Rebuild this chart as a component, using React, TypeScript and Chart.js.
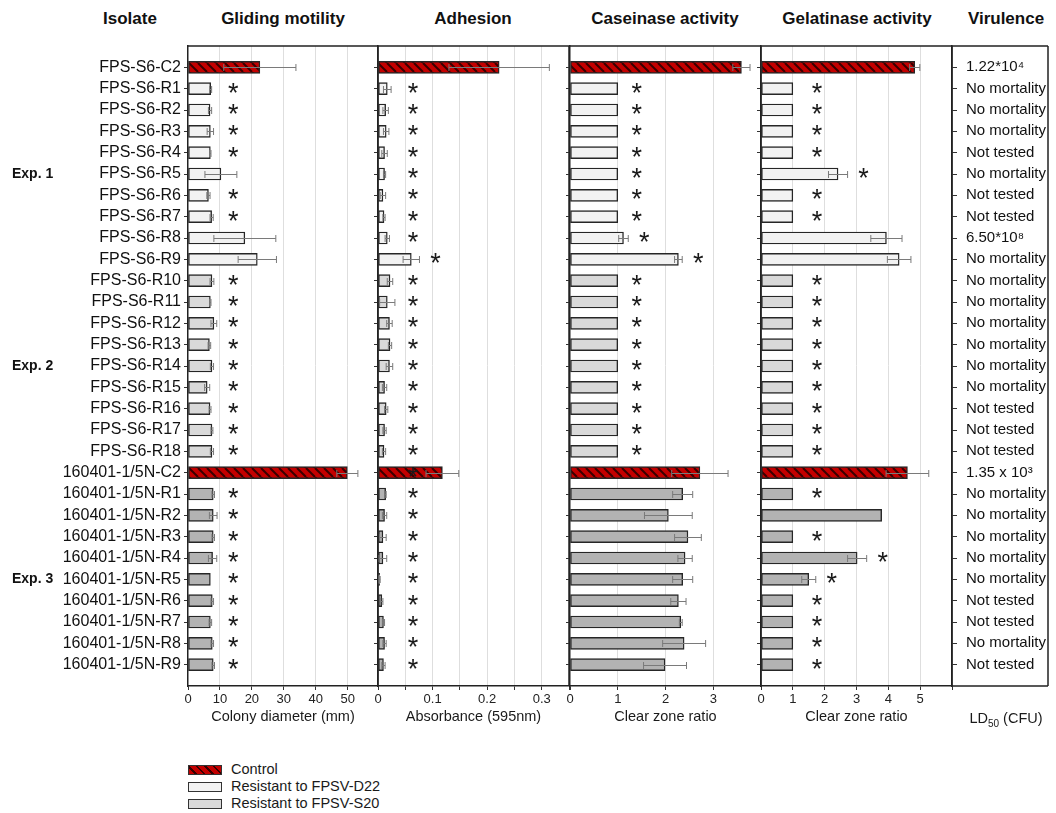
import React, { useEffect, useRef } from 'react';
import { Chart, registerables } from 'chart.js';

Chart.register(...registerables);

const FONT = '"Liberation Sans", Arial, Helvetica, sans-serif';

// ---------------- data ----------------
const isolates = [
  'FPS-S6-C2',
  'FPS-S6-R1', 'FPS-S6-R2', 'FPS-S6-R3', 'FPS-S6-R4', 'FPS-S6-R5', 'FPS-S6-R6', 'FPS-S6-R7', 'FPS-S6-R8', 'FPS-S6-R9',
  'FPS-S6-R10', 'FPS-S6-R11', 'FPS-S6-R12', 'FPS-S6-R13', 'FPS-S6-R14', 'FPS-S6-R15', 'FPS-S6-R16', 'FPS-S6-R17', 'FPS-S6-R18',
  '160401-1/5N-C2',
  '160401-1/5N-R1', '160401-1/5N-R2', '160401-1/5N-R3', '160401-1/5N-R4', '160401-1/5N-R5', '160401-1/5N-R6', '160401-1/5N-R7', '160401-1/5N-R8', '160401-1/5N-R9',
];

// C = control, E1/E2/E3 = resistant isolates of experiment 1/2/3
const rowGroup = [
  'C',
  'E1', 'E1', 'E1', 'E1', 'E1', 'E1', 'E1', 'E1', 'E1',
  'E2', 'E2', 'E2', 'E2', 'E2', 'E2', 'E2', 'E2', 'E2',
  'C',
  'E3', 'E3', 'E3', 'E3', 'E3', 'E3', 'E3', 'E3', 'E3',
];

const experiments = [
  { text: 'Exp. 1', anchor: 'FPS-S6-R5' },
  { text: 'Exp. 2', anchor: 'FPS-S6-R14' },
  { text: 'Exp. 3', anchor: '160401-1/5N-R5' },
];

const glidingMean = [22.5, 7.1, 6.9, 7.0, 7.0, 10.3, 6.4, 7.4, 17.8, 21.7, 7.5, 7.0, 8.1, 6.7, 7.5, 6.0, 6.9, 7.5, 7.5, 49.9, 7.9, 7.9, 7.9, 7.7, 7.0, 7.6, 7.0, 7.6, 7.9];
const glidingSd = [11.3, 0.3, 0.5, 1.0, 0.2, 5.0, 0.5, 0.5, 9.7, 6.0, 0.6, 0.2, 0.9, 0.4, 0.5, 0.8, 0.3, 0.3, 0.5, 3.3, 0.4, 1.2, 0.4, 1.3, 0, 0.4, 0.4, 0.4, 0.4];
const glidingStar = [0, 1, 1, 1, 1, 0, 1, 1, 0, 0, 1, 1, 1, 1, 1, 1, 1, 1, 1, 0, 1, 1, 1, 1, 1, 1, 1, 1, 1];

const adhesionMean = [0.222, 0.017, 0.014, 0.015, 0.012, 0.012, 0.009, 0.011, 0.017, 0.061, 0.022, 0.017, 0.021, 0.022, 0.021, 0.012, 0.015, 0.012, 0.011, 0.118, 0.014, 0.012, 0.009, 0.009, 0.003, 0.007, 0.010, 0.012, 0.010];
const adhesionSd = [0.092, 0.007, 0.005, 0.005, 0.005, 0.002, 0.005, 0.002, 0.004, 0.015, 0.005, 0.014, 0.005, 0.003, 0.006, 0.004, 0.003, 0.003, 0.003, 0.030, 0.001, 0.004, 0.006, 0.007, 0.001, 0.002, 0.002, 0.003, 0.003];
const adhesionStar = [0, 1, 1, 1, 1, 1, 1, 1, 1, 1, 1, 1, 1, 1, 1, 1, 1, 1, 1, 1, 1, 1, 1, 1, 1, 1, 1, 1, 1];

const caseinaseMean = [3.59, 1, 1, 1, 1, 1, 1, 1, 1.12, 2.27, 1, 1, 1, 1, 1, 1, 1, 1, 1, 2.72, 2.36, 2.06, 2.47, 2.41, 2.36, 2.27, 2.32, 2.39, 1.99];
const caseinaseSd = [0.18, 0, 0, 0, 0, 0, 0, 0, 0.1, 0.08, 0, 0, 0, 0, 0, 0, 0, 0, 0, 0.59, 0.21, 0.5, 0.28, 0.15, 0.21, 0.16, 0.03, 0.45, 0.45];
const caseinaseStar = [0, 1, 1, 1, 1, 1, 1, 1, 1, 1, 1, 1, 1, 1, 1, 1, 1, 1, 1, 0, 0, 0, 0, 0, 0, 0, 0, 0, 0];

const gelatinaseMean = [4.83, 1, 1, 1, 1, 2.42, 1, 1, 3.94, 4.34, 1, 1, 1, 1, 1, 1, 1, 1, 1, 4.6, 1, 3.79, 1, 3.02, 1.5, 1, 1, 1, 1];
const gelatinaseSd = [0.16, 0, 0, 0, 0, 0.3, 0, 0, 0.49, 0.37, 0, 0, 0, 0, 0, 0, 0, 0, 0, 0.67, 0, 0, 0, 0.3, 0.22, 0, 0, 0, 0];
const gelatinaseStar = [0, 1, 1, 1, 1, 1, 1, 1, 0, 0, 1, 1, 1, 1, 1, 1, 1, 1, 1, 0, 1, 0, 1, 1, 1, 1, 1, 1, 1];

const virulence = [
  '1.22*10⁴',
  'No mortality', 'No mortality', 'No mortality', 'Not tested', 'No mortality', 'Not tested', 'Not tested', '6.50*10⁸', 'No mortality',
  'No mortality', 'No mortality', 'No mortality', 'No mortality', 'No mortality', 'No mortality', 'Not tested', 'Not tested', 'Not tested',
  '1.35 x 10³',
  'No mortality', 'No mortality', 'No mortality', 'No mortality', 'No mortality', 'Not tested', 'Not tested', 'No mortality', 'Not tested',
];

const headers = ['Isolate', 'Gliding motility', 'Adhesion', 'Caseinase activity', 'Gelatinase activity', 'Virulence'];
const legendLabels = ['Control', 'Resistant to FPSV-D22', 'Resistant to FPSV-S20'];

// ---------------- styling / layout ----------------
const groupFill: Record<string, string> = { E1: '#f2f2f2', E2: '#d9d9d9', E3: '#b3b3b3' };
const headerX = [130, 283, 473, 665, 857, 1006];

type Panel = {
  key: string;
  mean: number[];
  sd: number[];
  star: number[];
  max: number;
  step: number;
  starAt: number;
  title: string;
  label: (v: number) => string;
  left: number;
  width: number;
  yWidth: number;
  padRight: number;
};

const panels: Panel[] = [
  {
    key: 'gliding', mean: glidingMean, sd: glidingSd, star: glidingStar, max: 59.5, step: 10, starAt: 14.2,
    title: 'Colony diameter (mm)', label: (v) => (Math.abs(v % 10) < 1e-9 ? String(v) : ''),
    left: 0, width: 400, yWidth: 188, padRight: 22,
  },
  {
    key: 'adhesion', mean: adhesionMean, sd: adhesionSd, star: adhesionStar, max: 0.35, step: 0.05, starAt: 0.064,
    title: 'Absorbance (595nm)',
    label: (v) => { const r = Math.round(v * 100); return r % 10 === 0 && r <= 30 ? String(r / 100) : ''; },
    left: 360, width: 230, yWidth: 18, padRight: 21,
  },
  {
    key: 'caseinase', mean: caseinaseMean, sd: caseinaseSd, star: caseinaseStar, max: 4, step: 1, starAt: 1.4,
    title: 'Clear zone ratio', label: (v) => (v <= 3 ? String(v) : ''),
    left: 550, width: 230, yWidth: 20, padRight: 19,
  },
  {
    key: 'gelatinase', mean: gelatinaseMean, sd: gelatinaseSd, star: gelatinaseStar, max: 6, step: 1, starAt: 1.76,
    title: 'Clear zone ratio', label: (v) => (v <= 5 ? String(v) : ''),
    left: 740, width: 316, yWidth: 21, padRight: 8,
  },
];

const CANVAS_H = 740;

function makeHatch(): CanvasPattern | string {
  const c = document.createElement('canvas');
  c.width = 9;
  c.height = 9;
  const g = c.getContext('2d');
  if (!g) return '#c00000';
  g.fillStyle = '#c40000';
  g.fillRect(0, 0, 9, 9);
  g.strokeStyle = '#3a0000';
  g.lineWidth = 2;
  for (const k of [-9, 0, 9]) {
    g.beginPath();
    g.moveTo(k, 0);
    g.lineTo(k + 9, 9);
    g.stroke();
  }
  return g.createPattern(c, 'repeat') || '#c00000';
}

function decorPlugin(p: Panel, first: boolean, last: boolean) {
  return {
    id: 'decor-' + p.key,
    afterDatasetsDraw(chart: any) {
      const { ctx } = chart;
      const x = chart.scales.x;
      const y = chart.scales.y;
      ctx.save();
      ctx.strokeStyle = '#7a7a7a';
      ctx.lineWidth = 1;
      p.mean.forEach((m, i) => {
        const s = p.sd[i];
        if (!s) return;
        const yy = Math.round(y.getPixelForValue(i + 1)) + 0.5;
        const x1 = x.getPixelForValue(Math.max(0, m - s));
        const x2 = x.getPixelForValue(m + s);
        ctx.beginPath();
        ctx.moveTo(x1, yy);
        ctx.lineTo(x2, yy);
        ctx.moveTo(x1, yy - 3.5);
        ctx.lineTo(x1, yy + 3.5);
        ctx.moveTo(x2, yy - 3.5);
        ctx.lineTo(x2, yy + 3.5);
        ctx.stroke();
      });
      ctx.fillStyle = '#1a1a1a';
      ctx.font = `27px ${FONT}`;
      ctx.textAlign = 'center';
      ctx.textBaseline = 'alphabetic';
      p.star.forEach((f, i) => {
        if (!f) return;
        const col = x.getPixelForValue(p.starAt);
        const after = x.getPixelForValue(p.mean[i] + p.sd[i]) + 16;
        const xx = rowGroup[i] === 'C' ? col : Math.max(col, after);
        ctx.fillText('*', xx, y.getPixelForValue(i + 1) + 13);
      });
      ctx.restore();
    },
    afterDraw(chart: any) {
      const { ctx, chartArea: a } = chart;
      const y = chart.scales.y;
      ctx.save();
      ctx.strokeStyle = '#222';
      ctx.lineWidth = 1.5;
      const right = last ? chart.width - 8 : a.right;
      ctx.beginPath();
      ctx.moveTo(a.left, a.top);
      ctx.lineTo(right, a.top);
      ctx.moveTo(a.right, a.top);
      ctx.lineTo(a.right, a.bottom);
      if (last) {
        ctx.moveTo(right, a.top);
        ctx.lineTo(right, a.bottom);
        ctx.moveTo(a.right, a.bottom);
        ctx.lineTo(right, a.bottom);
      }
      ctx.stroke();
      if (first) {
        ctx.fillStyle = '#111';
        ctx.font = `bold 14px ${FONT}`;
        ctx.textAlign = 'left';
        ctx.textBaseline = 'middle';
        experiments.forEach((e) => {
          const idx = isolates.indexOf(e.anchor);
          ctx.fillText(e.text, 12, y.getPixelForValue(idx + 1));
        });
      }
      ctx.restore();
    },
  };
}

function buildConfig(p: Panel, hatch: CanvasPattern | string, first: boolean, last: boolean): any {
  const yLabels = ['', ...isolates, ''];
  const n = yLabels.length;
  const fills = ['rgba(0,0,0,0)', ...rowGroup.map((g) => (g === 'C' ? hatch : groupFill[g])), 'rgba(0,0,0,0)'];
  const edgeTick = (c: any) => (c.index === 0 || c.index === n - 1 ? 'rgba(0,0,0,0)' : '#333');
  const scales: any = {
    x: {
      type: 'linear',
      position: 'bottom',
      min: 0,
      max: p.max,
      ticks: {
        stepSize: p.step,
        includeBounds: false,
        autoSkip: false,
        maxRotation: 0,
        padding: 2,
        color: '#222',
        font: { family: FONT, size: 13 },
        callback: (v: any) => p.label(Number(v)),
      },
      grid: {
        color: (c: any) => {
          const v = c.tick ? c.tick.value : 0;
          return v <= 1e-9 || v >= p.max - 1e-9 ? 'rgba(0,0,0,0)' : '#dedede';
        },
        tickColor: '#333',
        tickLength: 4,
        lineWidth: 1,
      },
      border: { display: true, color: '#222', width: 1.5 },
      title: {
        display: true,
        text: p.title,
        color: '#1a1a1a',
        font: { family: FONT, size: 14.5 },
        padding: { top: 0, bottom: 14 },
      },
      afterFit: (s: any) => {
        s.height = CANVAS_H - 686;
      },
    },
    y: {
      type: 'category',
      position: 'left',
      offset: false,
      ticks: {
        display: first,
        autoSkip: false,
        padding: 3,
        color: '#111',
        font: { family: FONT, size: 16 },
      },
      grid: {
        offset: false,
        drawOnChartArea: false,
        drawTicks: true,
        tickLength: 4,
        tickColor: edgeTick,
      },
      border: { display: true, color: '#222', width: 1.5 },
      afterFit: (s: any) => {
        s.width = p.yWidth;
      },
    },
  };
  if (last) {
    scales.v = {
      type: 'category',
      axis: 'y',
      position: 'right',
      offset: false,
      labels: ['', ...virulence, ''],
      ticks: {
        autoSkip: false,
        padding: 9,
        color: '#111',
        font: { family: FONT, size: 15 },
      },
      grid: {
        offset: false,
        drawOnChartArea: false,
        drawTicks: true,
        tickLength: 5,
        tickColor: edgeTick,
      },
      border: { display: true, color: '#222', width: 1.5 },
      afterFit: (s: any) => {
        s.width = 96;
      },
    };
  }
  return {
    type: 'bar',
    data: {
      labels: yLabels,
      datasets: [
        {
          data: [null, ...p.mean, null],
          backgroundColor: fills,
          borderColor: '#262626',
          borderWidth: 1.4,
          borderSkipped: false,
          barThickness: 12,
        },
      ],
    },
    options: {
      indexAxis: 'y',
      responsive: false,
      animation: false,
      events: [],
      layout: { padding: { top: 46, right: p.padRight, bottom: 0, left: 0 } },
      plugins: { legend: { display: false }, tooltip: { enabled: false }, title: { display: false } },
      scales,
    },
    plugins: [decorPlugin(p, first, last)],
  };
}

export default function App() {
  const canvases = useRef<(HTMLCanvasElement | null)[]>([]);

  useEffect(() => {
    const hatch = makeHatch();
    const charts = panels.map((p, k) => {
      const el = canvases.current[k] as HTMLCanvasElement;
      return new Chart(el, buildConfig(p, hatch, k === 0, k === panels.length - 1));
    });
    return () => charts.forEach((c) => c.destroy());
  }, []);

  const legendSwatch = [
    { background: 'repeating-linear-gradient(45deg, #c40000 0px, #c40000 4px, #3a0000 4px, #3a0000 6px)' },
    { background: groupFill.E1 },
    { background: groupFill.E2 },
  ];

  return (
    <div
      style={{
        position: 'absolute',
        left: 0,
        top: 0,
        width: 1056,
        height: 813,
        background: '#fff',
        fontFamily: FONT,
        color: '#111',
        overflow: 'hidden',
      }}
    >
      {headers.map((h, i) => (
        <div
          key={h}
          style={{
            position: 'absolute',
            left: headerX[i] - 120,
            width: 240,
            top: 9,
            textAlign: 'center',
            fontWeight: 'bold',
            fontSize: 17,
            lineHeight: '20px',
          }}
        >
          {h}
        </div>
      ))}
      {panels.map((p, k) => (
        <canvas
          key={p.key}
          ref={(el) => {
            canvases.current[k] = el;
          }}
          width={p.width}
          height={CANVAS_H}
          style={{ position: 'absolute', left: p.left, top: 0, width: p.width, height: CANVAS_H }}
        />
      ))}
      <div
        style={{
          position: 'absolute',
          left: 946,
          width: 120,
          top: 708,
          textAlign: 'center',
          fontSize: 14.5,
          lineHeight: '20px',
          color: '#1a1a1a',
        }}
      >
        LD<span style={{ fontSize: 10, position: 'relative', top: 4 }}>50</span> (CFU)
      </div>
      {legendLabels.map((t, k) => (
        <React.Fragment key={t}>
          <div
            style={{
              position: 'absolute',
              left: 188,
              top: 765 + k * 17,
              width: 34,
              height: 10,
              boxSizing: 'border-box',
              border: '1px solid #333',
              ...legendSwatch[k],
            }}
          />
          <div
            style={{
              position: 'absolute',
              left: 231,
              top: 761 + k * 17,
              fontSize: 14.5,
              lineHeight: '17px',
              color: '#1a1a1a',
              whiteSpace: 'nowrap',
            }}
          >
            {t}
          </div>
        </React.Fragment>
      ))}
    </div>
  );
}
